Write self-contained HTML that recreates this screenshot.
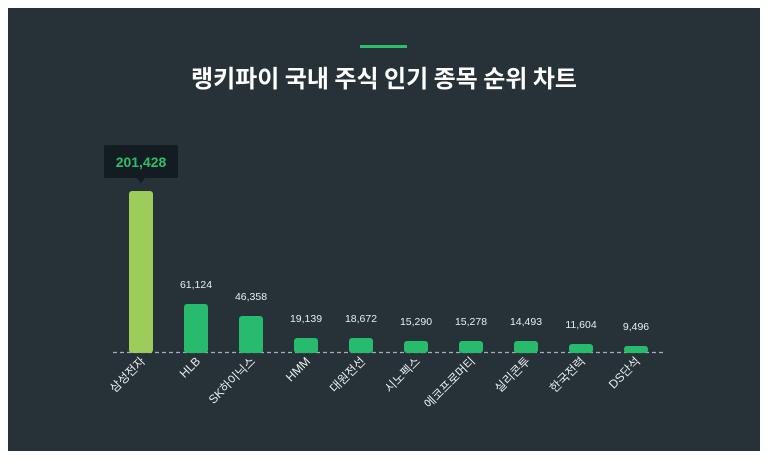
<!DOCTYPE html>
<html><head><meta charset="utf-8"><style>
body{margin:0;width:768px;height:461px;background:#fff;overflow:hidden;font-family:"Liberation Sans","Noto Sans CJK KR",sans-serif}
.card{position:absolute;left:8px;top:8px;width:752px;height:443px;background:#263238}
.t{position:absolute;left:0;width:768px;top:59px;text-align:center;color:#fff;font-weight:bold;font-size:24px;font-family:"Noto Sans CJK KR",sans-serif}
</style></head><body>
<div class="card"></div>
<div style="position:absolute;left:360px;top:45px;width:47px;height:3px;background:#2ebd6b"></div>
<div class="t">랭키파이 국내 주식 인기 종목 순위 차트</div>
<svg width="768" height="461" style="position:absolute;left:0;top:0" font-family="Liberation Sans, Noto Sans CJK KR, sans-serif">
<line x1="113" y1="352.5" x2="665" y2="352.5" stroke="#aab" stroke-width="1.2" stroke-dasharray="4,3"/>
<rect x="129" y="191" width="24" height="162" rx="3" fill="#9ccc5a"/>
<g fill="#27bb6e">
<rect x="184" y="304" width="24" height="49" rx="3"/>
<rect x="239" y="316" width="24" height="37" rx="3"/>
<rect x="294" y="338" width="24" height="15" rx="3"/>
<rect x="349" y="338" width="24" height="15" rx="3"/>
<rect x="404" y="341" width="24" height="12" rx="3"/>
<rect x="459" y="341" width="24" height="12" rx="3"/>
<rect x="514" y="341" width="24" height="12" rx="3"/>
<rect x="569" y="344" width="24" height="9" rx="3"/>
<rect x="624" y="346" width="24" height="7" rx="3"/>
</g>
<rect x="104" y="145" width="74" height="33" rx="2" fill="#121c21"/>
<path d="M137 178 L141 183 L145 178Z" fill="#121c21"/>
<text x="141" y="167" text-anchor="middle" fill="#2ebd6b" font-weight="bold" font-size="14">201,428</text>
<g fill="#e8ecef" font-size="10.5" text-anchor="middle">
<text x="196" y="288">61,124</text><text x="251" y="300">46,358</text>
<text x="306" y="322">19,139</text><text x="361" y="322">18,672</text>
<text x="416" y="325">15,290</text><text x="471" y="325">15,278</text>
<text x="526" y="325">14,493</text><text x="581" y="328">11,604</text>
<text x="636" y="330">9,496</text>
</g>
<g fill="#e8ecef" font-size="12" text-anchor="end">
<text transform="translate(146,362) rotate(-45)">삼성전자</text>
<text transform="translate(201,362) rotate(-45)">HLB</text>
<text transform="translate(256,362) rotate(-45)">SK하이닉스</text>
<text transform="translate(311,362) rotate(-45)">HMM</text>
<text transform="translate(366,362) rotate(-45)">대원전선</text>
<text transform="translate(421,362) rotate(-45)">시노펙스</text>
<text transform="translate(476,362) rotate(-45)">에코프로머티</text>
<text transform="translate(531,362) rotate(-45)">실리콘투</text>
<text transform="translate(586,362) rotate(-45)">한국전력</text>
<text transform="translate(641,362) rotate(-45)">DS단석</text>
</g>
</svg>
</body></html>
